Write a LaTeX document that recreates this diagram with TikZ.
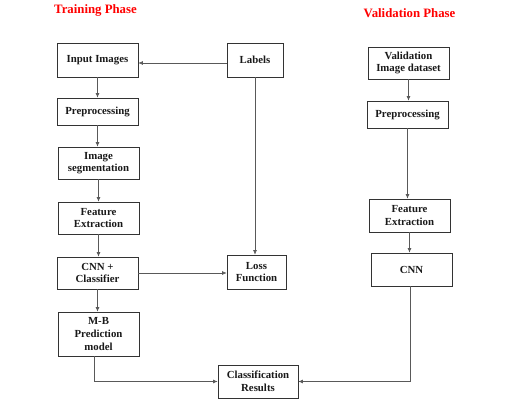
\documentclass[tikz,border=0pt]{standalone}
\usepackage{fontspec}
\setmainfont{Liberation Serif}
\usetikzlibrary{arrows.meta}
\begin{document}
\begin{tikzpicture}[x=1pt,y=-1pt,
  box/.style={draw=black!80, line width=0.6pt, align=center, inner sep=0pt,
    font=\fontsize{10.8}{12.6}\selectfont\bfseries, text=black!90},
  title/.style={font=\fontsize{12.8}{14}\selectfont\bfseries, text=red},
  conn/.style={draw=black!65, line width=0.6pt, -{Latex[length=4.5pt,width=3.8pt]}}]
\useasboundingbox (0,0) rectangle (522,401);
\node[title] (t1) at (95.5,10) {Training Phase};
\node[title] (t2) at (409.5,13) {Validation Phase};
\node[box, minimum width=81pt, minimum height=34pt] (in) at (97.5,60) {Input Images};
\node[box, minimum width=56pt, minimum height=34pt] (lab) at (255,60) {Labels};
\node[box, minimum width=81pt, minimum height=27pt] (pre1) at (97.5,111.5) {Preprocessing};
\node[box, minimum width=81pt, minimum height=32pt] (seg) at (98.5,163) {Image\\segmentation};
\node[box, minimum width=81pt, minimum height=32pt] (feat) at (98.5,218) {Feature\\Extraction};
\node[box, minimum width=81pt, minimum height=32pt] (cnn) at (97.5,273) {CNN +\\Classifier};
\node[box, minimum width=81pt, minimum height=44pt] (mb) at (98.5,334) {M-B\\Prediction\\model};
\node[box, minimum width=59pt, minimum height=34pt] (loss) at (256.5,272) {Loss\\Function};
\node[box, minimum width=80pt, minimum height=33pt] (cls) at (258,381.5) {Classification\\Results};
\node[box, minimum width=81pt, minimum height=32pt] (vds) at (408.5,63) {Validation\\Image dataset};
\node[box, minimum width=81pt, minimum height=27pt] (pre2) at (407.5,114.5) {Preprocessing};
\node[box, minimum width=81pt, minimum height=33pt] (feat2) at (409.5,215.5) {Feature\\Extraction};
\node[box, minimum width=81pt, minimum height=33pt] (cnn2) at (411.5,269.5) {CNN};
\draw[conn] ([yshift=-3pt]lab.west) -- ([yshift=-3pt]lab.west -| in.east);
\draw[conn] (lab.south) -- (lab.south |- loss.north);
\draw[conn] (in.south) -- (in.south |- pre1.north);
\draw[conn] (pre1.south) -- (pre1.south |- seg.north);
\draw[conn] (seg.south) -- (seg.south |- feat.north);
\draw[conn] (feat.south) -- (feat.south |- cnn.north);
\draw[conn] (cnn.south) -- (cnn.south |- mb.north);
\draw[conn] (cnn.east) -- (cnn.east -| loss.west);
\draw[conn] ([xshift=-4pt]mb.south) |- (cls.west);
\draw[conn] ([xshift=-1.5pt]cnn2.south) |- (cls.east);
\draw[conn] (vds.south) -- (vds.south |- pre2.north);
\draw[conn] (pre2.south) -- (pre2.south |- feat2.north);
\draw[conn] (feat2.south) -- (feat2.south |- cnn2.north);
\end{tikzpicture}
\end{document}
